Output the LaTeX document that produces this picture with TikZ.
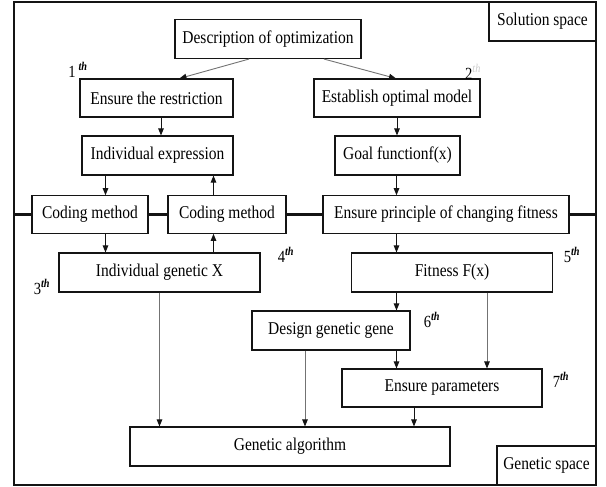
\documentclass[tikz,border=0pt]{standalone}
\usepackage{fontspec}
\setmainfont{Liberation Serif}[FakeStretch=0.86]
\usepackage{xcolor}
\usetikzlibrary{arrows.meta,positioning}
\definecolor{linkgray}{RGB}{115,115,115}
\definecolor{framecol}{RGB}{20,20,20}
\tikzset{
  stepbox/.style 2 args={draw=framecol,line width=1.1pt,fill=white,inner sep=0pt,
    minimum width=#1,minimum height=#2,font=\fontsize{18}{20}\selectfont},
  spacebox/.style 2 args={stepbox={#1}{#2},line width=1.3pt},
  blackarrow/.style={-{Triangle[length=7pt,width=5.5pt]},line width=0.9pt,framecol},
  grayarrow/.style={-{Triangle[length=7pt,width=5.5pt,color=framecol]},line width=0.9pt,linkgray},
  ordlabel/.style={font=\fontsize{17}{19}\selectfont,inner sep=0pt},
}

\begin{document}
\begin{tikzpicture}[x=1pt,y=-1pt]
  \useasboundingbox (0,0) rectangle (606,487);
  % Frame and the border between the two spaces
  \draw[line width=2.6pt,framecol] (14,2) rectangle (596,485);
  \draw[line width=3pt,framecol] (14,214.5) -- (596,214.5);
  \node[spacebox={107pt}{39pt}] (solsp) at (542.5,21.5) {Solution space};
  \node[spacebox={99pt}{39pt}]  (gensp) at (546.5,465.5) {Genetic space};
  % Boxes
  \node[stepbox={186pt}{39pt}] (desc)      at (268,39)    {Description of optimization};
  \node[stepbox={153pt}{38pt}] (restr)     at (156.5,98)  {Ensure the restriction};
  \node[stepbox={166pt}{38pt}] (model)     at (397,98)    {Establish optimal model};
  \node[stepbox={151pt}{39pt}] (indexp)    at (157.5,155.5) {Individual expression};
  \node[stepbox={125pt}{39pt}] (goal)      at (397.5,155.5) {Goal functionf(x)};
  \node[stepbox={116pt}{37.5pt}] (code1)   at (90,214.5)  {Coding method};
  \node[stepbox={118pt}{37.5pt}] (code2)   at (227,214.5) {Coding method};
  \node[stepbox={246pt}{37.5pt}] (principle) at (446,214.5) {Ensure principle of changing fitness};
  \node[stepbox={201pt}{39pt}] (indgen)    at (159.5,272.5) {Individual genetic X};
  \node[stepbox={201pt}{39pt}] (fitness)   at (452,272.5) {Fitness F(x)};
  \node[stepbox={158pt}{39pt}] (design)    at (331,330.5) {Design genetic gene};
  \node[stepbox={200pt}{38pt}] (params)    at (442,388)   {Ensure parameters};
  \node[stepbox={320pt}{39pt}] (ga)        at (290,446.5) {Genetic algorithm};
  % Order marks
  \node[ordlabel] (ord1) at (78,70)    {1\,\textsuperscript{\textbf{\textit{th}}}};
  \node[ordlabel] (ord2) at (473,72)   {2\textsuperscript{\textcolor{gray!40}{\textit{th}}}};
  \node[ordlabel] (ord3) at (42,287)   {3\textsuperscript{\textbf{\textit{th}}}};
  \node[ordlabel] (ord4) at (286,255)  {4\textsuperscript{\textbf{\textit{th}}}};
  \node[ordlabel] (ord5) at (572,255)  {5\textsuperscript{\textbf{\textit{th}}}};
  \node[ordlabel] (ord6) at (432,320)  {6\textsuperscript{\textbf{\textit{th}}}};
  \node[ordlabel] (ord7) at (561,380)  {7\textsuperscript{\textbf{\textit{th}}}};
  % Connectors
  \draw[grayarrow] ([xshift=-19pt]desc.south) -- ([xshift=23pt]restr.north);
  \draw[grayarrow] ([xshift=56pt]desc.south) -- ([xshift=-1pt]model.north);
  \draw[blackarrow] ([xshift=4.5pt]restr.south) -- ([xshift=4.5pt]restr.south |- indexp.north);
  \draw[blackarrow] (model.south) -- (model.south |- goal.north);
  \draw[blackarrow] ([xshift=15.5pt]code1.north |- indexp.south) -- ([xshift=15.5pt]code1.north);
  \draw[blackarrow] ([xshift=-13.5pt]code2.north) -- ([xshift=-13.5pt]code2.north |- indexp.south);
  \draw[blackarrow] ([xshift=-49.5pt]principle.north |- goal.south) -- ([xshift=-49.5pt]principle.north);
  \draw[blackarrow] ([xshift=15.5pt]code1.south) -- ([xshift=15.5pt]code1.south |- indgen.north);
  \draw[blackarrow] ([xshift=-13.5pt]code2.south |- indgen.north) -- ([xshift=-13.5pt]code2.south);
  \draw[blackarrow] ([xshift=-49.5pt]principle.south) -- ([xshift=-49.5pt]principle.south |- fitness.north);
  \draw[blackarrow] ([xshift=-55.5pt]fitness.south) -- ([xshift=-55.5pt]fitness.south |- design.north);
  \draw[blackarrow] ([xshift=65.5pt]design.south) -- ([xshift=65.5pt]design.south |- params.north);
  \draw[grayarrow] ([xshift=35pt]fitness.south) -- ([xshift=35pt]fitness.south |- params.north);
  \draw[grayarrow] (indgen.south) -- (indgen.south |- ga.north);
  \draw[grayarrow] ([xshift=-26pt]design.south) -- ([xshift=-26pt]design.south |- ga.north);
  \draw[blackarrow] ([xshift=-28pt]params.south) -- ([xshift=-28pt]params.south |- ga.north);
\end{tikzpicture}
\end{document}
